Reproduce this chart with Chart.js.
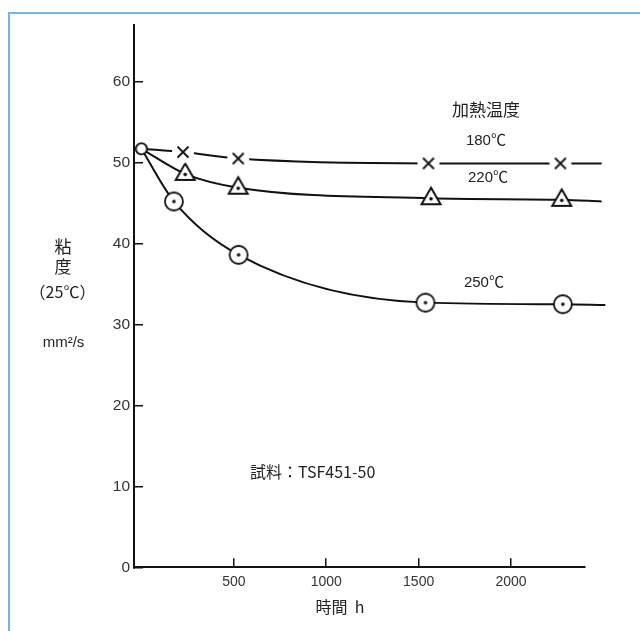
<!DOCTYPE html>
<html>
<head>
<meta charset="utf-8">
<script src="https://cdn.jsdelivr.net/npm/chart.js@4.4.1/dist/chart.umd.min.js"></script>
<style>
  html, body { margin: 0; padding: 0; background: #fff; }
  #frame { position: absolute; left: 8px; top: 12px; width: 700px; height: 700px;
           border-left: 2px solid #6db6e8; border-top: 2px solid #6db6e8; }
  #wrap { position: absolute; left: 0; top: 0; width: 640px; height: 631px; }
</style>
</head>
<body>
<div id="frame"></div>
<div id="wrap"><canvas id="c" width="640" height="631"></canvas></div>
<script>
// Heating time (h) and kinematic viscosity at 25℃ (mm²/s) per heating temperature
const hours180 = [0, 225, 524, 1553, 2267, 2490];
const visc180  = [51.7, 51.3, 50.5, 49.9, 49.9, 49.9];
const hours220 = [0, 237, 524, 1567, 2274, 2490];
const visc220  = [51.7, 48.6, 46.9, 45.6, 45.4, 45.2];
const hours250 = [0, 176, 526, 1537, 2280, 2510];
const visc250  = [51.7, 45.2, 38.6, 32.7, 32.5, 32.4];

const seriesNames = ['180℃', '220℃', '250℃'];
const xTickValues = [500, 1000, 1500, 2000];
const yTickValues = [0, 10, 20, 30, 40, 50, 60];

// Text placed inside the plot, anchored in data coordinates (hours, mm²/s)
const notes = [
  { text: '加熱温度',        t: 1864, v: 56.5, font: '17px "Noto Sans CJK JP"', align: 'center' },
  { text: seriesNames[0],    t: 1864, v: 52.7, font: '15px "Liberation Sans", "Noto Sans CJK JP"', align: 'center' },
  { text: seriesNames[1],    t: 1875, v: 48.1, font: '15px "Liberation Sans", "Noto Sans CJK JP"', align: 'center' },
  { text: seriesNames[2],    t: 1853, v: 35.2, font: '15px "Liberation Sans", "Noto Sans CJK JP"', align: 'center' },
  { text: '試料：TSF451-50', t: 588,  v: 11.8, font: '16px "Noto Sans CJK JP"', align: 'left' }
];

const INK = '#111';

function marker(size, paint) {
  const c = document.createElement('canvas');
  c.width = size; c.height = size;
  const g = c.getContext('2d');
  g.translate(size / 2, size / 2);
  g.strokeStyle = INK; g.fillStyle = '#fff';
  paint(g);
  return c;
}
// open circle at the common starting point
const startMark = marker(16, g => {
  g.lineWidth = 1.5;
  g.beginPath(); g.arc(0, 0, 5.4, 0, Math.PI * 2); g.fill(); g.stroke();
});
// × on a white patch so the curve breaks around it
const crossMark = marker(24, g => {
  g.beginPath(); g.arc(0, 0, 11, 0, Math.PI * 2); g.fill();
  g.lineWidth = 1.8; g.lineCap = 'butt';
  g.beginPath();
  g.moveTo(-5.5, -5.5); g.lineTo(5.5, 5.5);
  g.moveTo(5.5, -5.5); g.lineTo(-5.5, 5.5);
  g.stroke();
});
// triangle with centre dot
const triMark = marker(28, g => {
  g.lineWidth = 2; g.lineJoin = 'miter';
  g.beginPath(); g.moveTo(0, -10.5); g.lineTo(9.5, 6); g.lineTo(-9.5, 6); g.closePath();
  g.fill(); g.stroke();
  g.fillStyle = INK;
  g.beginPath(); g.arc(0, 0.6, 1.8, 0, Math.PI * 2); g.fill();
});
// circle with centre dot
const ringMark = marker(24, g => {
  g.lineWidth = 1.8;
  g.beginPath(); g.arc(0, 0, 9, 0, Math.PI * 2); g.fill(); g.stroke();
  g.fillStyle = INK;
  g.beginPath(); g.arc(0, 0, 1.8, 0, Math.PI * 2); g.fill();
});

function series(hours, visc, mark) {
  const n = hours.length;
  return {
    data: hours.map((t, i) => ({ x: t, y: visc[i] })),
    borderColor: INK,
    borderWidth: 2,
    cubicInterpolationMode: 'monotone',
    pointStyle: hours.map((t, i) => (i === 0 ? startMark : mark)),
    pointRadius: hours.map((t, i) => (i === n - 1 ? 0 : 6)),
    clip: false
  };
}

const textPlugin = {
  id: 'labels',
  afterDraw(chart) {
    const ctx = chart.ctx;
    const xs = chart.scales.x, ys = chart.scales.y;
    ctx.save();
    ctx.fillStyle = '#222';
    ctx.textBaseline = 'middle';
    ctx.textAlign = 'center';
    // vertical axis title
    ctx.font = '17px "Noto Sans CJK JP"';
    ctx.fillText('粘', 63, 247);
    ctx.fillText('度', 63, 267);
    ctx.font = '16px "Noto Sans CJK JP"';
    ctx.fillText('（25℃）', 62.5, 292);
    ctx.font = '15px "Liberation Sans", "DejaVu Sans"';
    ctx.fillText('mm²/s', 63.5, 343);
    // horizontal axis title
    ctx.font = '16px "Noto Sans CJK JP"';
    ctx.fillText('時間  h', 340, 607);
    // notes inside the plot
    notes.forEach(n => {
      ctx.font = n.font;
      ctx.textAlign = n.align;
      ctx.fillText(n.text, xs.getPixelForValue(n.t), ys.getPixelForValue(n.v));
    });
    ctx.restore();
  }
};

new Chart(document.getElementById('c'), {
  type: 'line',
  data: {
    datasets: [
      series(hours180, visc180, crossMark),
      series(hours220, visc220, triMark),
      series(hours250, visc250, ringMark)
    ]
  },
  options: {
    responsive: false,
    animation: false,
    events: [],
    layout: { padding: { left: 0, right: 55, top: 25, bottom: 0 } },
    plugins: { legend: { display: false }, tooltip: { enabled: false } },
    scales: {
      x: {
        type: 'linear',
        min: -40,
        max: 2400,
        afterBuildTicks: s => { s.ticks = xTickValues.map(v => ({ value: v })); },
        afterFit: s => { s.height = 63.7; },
        border: { display: true, color: INK, width: 2 },
        grid: { drawOnChartArea: false, drawTicks: true, tickLength: -9, color: INK, lineWidth: 1.5 },
        ticks: {
          padding: 15,
          color: '#333',
          font: { family: '"Liberation Sans", Arial, sans-serif', size: 14 },
          maxRotation: 0,
          callback: v => String(v)
        }
      },
      y: {
        type: 'linear',
        min: 0,
        max: 67,
        afterBuildTicks: s => { s.ticks = yTickValues.map(v => ({ value: v })); },
        afterFit: s => { s.width = 134; },
        border: { display: true, color: INK, width: 2 },
        grid: { drawOnChartArea: false, drawTicks: true, tickLength: -9, color: INK, lineWidth: 1.5 },
        ticks: {
          padding: 13,
          color: '#333',
          font: { family: '"Liberation Sans", Arial, sans-serif', size: 15.5 },
          callback: v => String(v)
        }
      }
    }
  },
  plugins: [textPlugin]
});
</script>
</body>
</html>
